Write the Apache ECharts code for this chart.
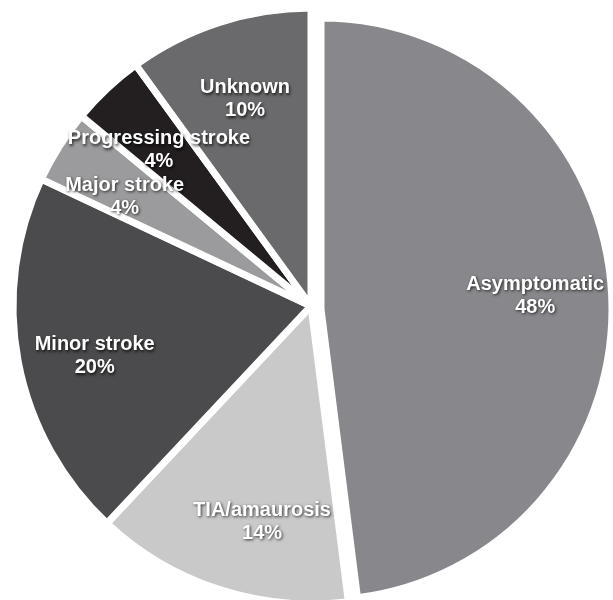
<!DOCTYPE html>
<html>
<head>
<meta charset="utf-8">
<script src="https://cdn.jsdelivr.net/npm/echarts@6/dist/echarts.min.js"></script>
<style>
html,body{margin:0;padding:0;background:#fff;}
#chart{width:613px;height:600px;}
</style>
</head>
<body>
<div id="chart"></div>
<script>
// Data (clockwise from 12 o'clock)
const categories = ['Asymptomatic', 'TIA/amaurosis', 'Minor stroke', 'Major stroke', 'Progressing stroke', 'Unknown'];
const percents = [48, 14, 20, 4, 4, 10];
const sliceColors = ['#88888c', '#c9c9ca', '#4b4b4d', '#9b9b9d', '#231f20', '#6a6a6c'];
// which slice is pulled out of the pie
const explodedIndex = 0;
// label nudges from the default inside position
const labelShift = [[66, -4], [-2, 71], [-67, 22], [-58, -28], [-48, -45], [-19, -62]];

function buildData(showExploded) {
  return categories.map(function (name, i) {
    const visible = (i === explodedIndex) === showExploded;
    return {
      name: name,
      value: percents[i],
      itemStyle: visible
        ? { color: sliceColors[i], borderColor: '#ffffff', borderWidth: 7 }
        : { color: 'rgba(0,0,0,0)', borderWidth: 0 },
      label: { show: visible }
    };
  });
}

const labelStyle = {
  position: 'inside',
  formatter: '{b}\n{c}%',
  color: '#ffffff',
  fontFamily: 'Liberation Sans, Arial, sans-serif',
  fontWeight: 'bold',
  fontSize: 20,
  lineHeight: 23,
  textShadowColor: 'rgba(0,0,0,0.75)',
  textShadowBlur: 3,
  textShadowOffsetX: 1,
  textShadowOffsetY: 1.5,
  textBorderWidth: 0
};

function layoutFor(params) {
  const s = labelShift[params.dataIndex];
  return { dx: s[0], dy: s[1] };
}

const chart = echarts.init(document.getElementById('chart'), null, { renderer: 'canvas' });
chart.setOption({
  animation: false,
  backgroundColor: '#ffffff',
  series: [
    {
      type: 'pie',
      center: [311, 306],
      radius: [0, 298],
      startAngle: 90,
      clockwise: true,
      silent: true,
      labelLine: { show: false },
      label: labelStyle,
      labelLayout: layoutFor,
      data: buildData(false)
    },
    {
      type: 'pie',
      center: [321, 309],
      radius: [0, 291],
      startAngle: 90,
      clockwise: true,
      silent: true,
      labelLine: { show: false },
      label: labelStyle,
      labelLayout: layoutFor,
      data: buildData(true)
    }
  ]
});
</script>
</body>
</html>
